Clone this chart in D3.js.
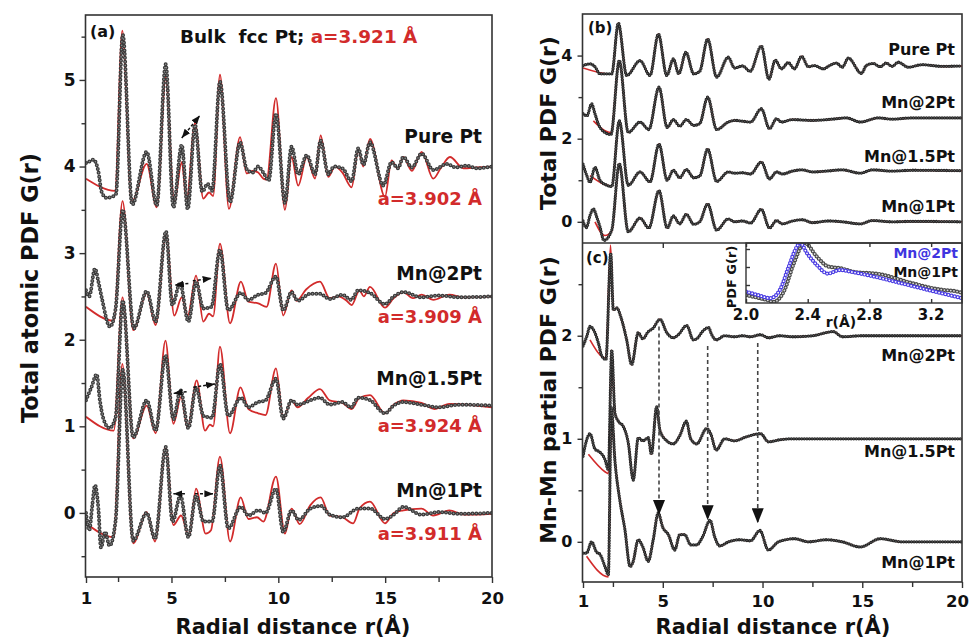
<!DOCTYPE html>
<html>
<head>
<meta charset="utf-8">
<script src="https://cdn.jsdelivr.net/npm/d3@7"></script>
<style>
body { margin: 0; background: #fff; }
svg { display: block; }
</style>
</head>
<body>
<svg id="chart" width="971" height="640"></svg>
<script>
// ---- panel (a): total PDF, [r, G]
var aPureExp = [[1,4.04],[1.1,4.05],[1.34,4.08],[1.58,3.94],[1.73,3.71],[1.95,3.64],[2.2,3.65],[2.4,3.68],[2.72,5.52],[3.16,3.56],[3.84,4.17],[4.31,3.55],[4.73,5.18],[5.09,3.53],[5.48,4.25],[5.76,3.51],[6.1,4.48],[6.44,3.71],[6.69,3.8],[6.9,3.72],[7.27,4.98],[7.74,3.59],[8.21,4.28],[8.52,3.97],[8.8,3.93],[9.06,4.0],[9.3,3.93],[9.55,3.84],[9.89,4.61],[10.31,3.58],[10.62,4.23],[10.93,3.91],[11.33,4.13],[11.72,3.91],[11.98,4.3],[12.34,3.91],[12.6,4.0],[13.0,3.98],[13.43,3.83],[13.74,4.21],[13.98,4.02],[14.29,4.28],[14.91,3.78],[15.3,4.05],[15.6,3.98],[15.85,4.11],[16.25,3.99],[16.71,4.15],[17.25,3.96],[17.9,4.03],[18.3,3.99],[18.8,4.01],[19.3,3.98],[20,4.0]];
var aPureFit = [[1,3.86],[2.36,3.72],[2.7,5.57],[3.14,3.59],[3.84,4.03],[4.31,3.53],[4.73,5.03],[5.13,3.59],[5.48,4.05],[5.71,3.61],[6.1,4.5],[6.49,3.63],[6.76,3.7],[6.95,3.66],[7.27,5.06],[7.69,3.51],[8.21,4.34],[8.52,3.92],[8.8,3.95],[9.06,3.93],[9.3,3.86],[9.45,3.85],[9.89,4.79],[10.31,3.5],[10.62,4.11],[10.93,3.78],[11.33,4.11],[11.72,3.86],[11.98,4.36],[12.34,3.88],[12.65,4.0],[13.0,3.93],[13.43,3.76],[13.74,4.19],[13.98,4.0],[14.29,4.32],[14.99,3.65],[15.3,4.07],[15.6,3.97],[15.85,4.11],[16.25,3.95],[16.71,4.17],[17.25,3.86],[17.6,3.98],[18.03,4.11],[18.66,3.98],[19.3,3.99],[20,4.0]];
var a2PtExp = [[1,2.57],[1.15,2.5],[1.42,2.82],[1.58,2.67],[1.75,2.47],[2.12,2.15],[2.38,2.35],[2.72,3.5],[3.24,2.13],[3.84,2.56],[4.26,2.21],[4.74,3.25],[5.04,2.4],[5.4,2.65],[5.79,2.21],[6.15,2.67],[6.49,2.36],[6.87,2.38],[7.27,3.04],[7.66,2.34],[8.25,2.54],[8.6,2.46],[9.06,2.52],[9.4,2.54],[9.89,2.73],[10.23,2.34],[10.62,2.55],[10.9,2.45],[11.5,2.53],[11.95,2.53],[12.4,2.47],[13.0,2.52],[13.4,2.46],[13.74,2.57],[14.29,2.54],[14.99,2.41],[15.4,2.5],[15.85,2.55],[16.7,2.49],[17.5,2.51],[18.5,2.49],[20,2.5]];
var a2PtFit = [[1,2.38],[2.3,2.22],[2.71,3.6],[3.21,2.11],[3.84,2.54],[4.26,2.17],[4.74,3.23],[5.13,2.28],[5.48,2.49],[5.76,2.28],[6.15,2.74],[6.49,2.21],[6.76,2.3],[6.95,2.27],[7.27,3.11],[7.74,2.19],[8.25,2.67],[8.6,2.44],[9.06,2.42],[9.45,2.38],[9.89,2.88],[10.23,2.28],[10.62,2.57],[10.85,2.45],[11.3,2.58],[11.95,2.67],[12.4,2.48],[12.8,2.5],[13.2,2.45],[13.43,2.4],[13.8,2.57],[14.0,2.5],[14.29,2.61],[14.99,2.37],[15.4,2.48],[15.85,2.55],[16.3,2.48],[16.71,2.52],[17.25,2.46],[18.0,2.52],[18.7,2.49],[20,2.5]];
var a15PtExp = [[1,1.3],[1.25,1.45],[1.5,1.6],[1.65,1.3],[1.8,1.1],[2.1,0.98],[2.38,1.1],[2.72,2.45],[3.21,0.87],[3.84,1.3],[4.26,0.95],[4.72,1.82],[5.09,1.08],[5.42,1.42],[5.79,0.98],[6.15,1.45],[6.5,1.12],[6.9,1.1],[7.27,1.72],[7.66,1.12],[8.25,1.33],[8.6,1.22],[9.06,1.28],[9.4,1.3],[9.89,1.55],[10.23,1.09],[10.62,1.3],[10.9,1.25],[11.5,1.3],[11.95,1.33],[12.4,1.25],[13.0,1.28],[13.4,1.22],[13.74,1.33],[14.3,1.3],[14.99,1.15],[15.4,1.24],[15.85,1.28],[16.7,1.25],[17.5,1.22],[18.5,1.25],[20,1.24]];
var a15PtFit = [[1,1.11],[2.3,0.95],[2.71,2.49],[3.21,0.86],[3.84,1.24],[4.26,0.92],[4.72,1.99],[5.09,1.03],[5.45,1.34],[5.76,0.98],[6.18,1.53],[6.57,0.95],[6.8,1.02],[6.95,1.0],[7.27,1.92],[7.74,0.92],[8.23,1.45],[8.6,1.2],[9.06,1.15],[9.4,1.13],[9.89,1.67],[10.23,1.09],[10.62,1.3],[10.9,1.22],[11.4,1.33],[11.95,1.43],[12.4,1.3],[13.0,1.27],[13.43,1.2],[13.8,1.33],[14.29,1.36],[14.99,1.15],[15.4,1.25],[15.85,1.3],[16.7,1.27],[17.3,1.2],[18.0,1.26],[20,1.22]];
var a1PtExp = [[1,0.0],[1.15,-0.2],[1.3,0.1],[1.42,0.32],[1.58,0.05],[1.7,-0.4],[1.9,-0.22],[2.1,-0.38],[2.38,-0.1],[2.72,1.65],[3.21,-0.32],[3.84,0.0],[4.23,-0.3],[4.73,0.76],[5.05,-0.1],[5.42,0.2],[5.79,-0.28],[6.15,0.2],[6.5,-0.1],[6.9,-0.1],[7.27,0.55],[7.66,-0.18],[8.24,0.07],[8.6,-0.03],[9.06,0.03],[9.4,0.0],[9.89,0.28],[10.23,-0.22],[10.62,0.03],[10.95,-0.08],[11.5,0.05],[12.0,0.08],[12.4,-0.02],[13.0,-0.05],[13.74,0.05],[14.3,0.05],[14.99,-0.07],[15.4,-0.02],[15.85,0.07],[16.7,-0.02],[17.5,0.01],[18.5,-0.01],[20,0.0]];
var a1PtFit = [[1,-0.12],[2.3,-0.28],[2.7,1.72],[3.21,-0.35],[3.84,0.01],[4.23,-0.33],[4.73,0.76],[5.09,-0.14],[5.45,-0.03],[5.82,-0.27],[6.15,0.28],[6.6,-0.24],[6.85,-0.2],[7.27,0.65],[7.74,-0.33],[8.24,0.18],[8.6,-0.07],[9.0,-0.05],[9.3,-0.1],[9.89,0.42],[10.31,-0.24],[10.62,0.05],[11.0,-0.13],[11.5,0.09],[11.98,0.18],[12.4,-0.03],[13.0,-0.05],[13.5,-0.12],[13.8,0.05],[14.29,0.13],[14.99,-0.12],[15.4,0.0],[15.85,0.03],[16.7,0.05],[17.25,-0.03],[18.0,0.03],[18.7,-0.02],[20,-0.01]];

// ---- panel (b): total PDF
var bPureExp = [[1,3.76],[1.35,3.8],[1.6,3.73],[1.85,3.56],[2.44,3.56],[2.77,4.78],[3.19,3.52],[3.86,3.88],[4.36,3.52],[4.78,4.52],[5.2,3.52],[5.53,3.92],[5.8,3.56],[6.16,4.08],[6.55,3.56],[6.85,3.62],[7.25,4.4],[7.7,3.48],[8.28,3.96],[8.6,3.7],[9.0,3.75],[9.38,3.62],[9.94,4.23],[10.32,3.43],[10.64,3.89],[10.95,3.68],[11.29,3.83],[11.6,3.68],[11.96,3.98],[12.3,3.73],[12.6,3.76],[13.05,3.68],[13.36,3.76],[13.7,3.82],[14.0,3.72],[14.3,3.94],[14.96,3.57],[15.2,3.76],[15.55,3.81],[15.9,3.73],[16.2,3.82],[16.5,3.74],[16.8,3.84],[17.3,3.72],[18.0,3.78],[19.0,3.74],[20,3.75]];
var b2PtExp = [[1,2.6],[1.2,2.55],[1.43,2.84],[1.6,2.6],[1.77,2.35],[2.1,2.15],[2.4,2.1],[2.82,3.88],[3.27,2.15],[3.86,2.4],[4.3,2.22],[4.81,3.24],[5.22,2.27],[5.53,2.46],[5.85,2.3],[6.18,2.46],[6.55,2.32],[6.85,2.36],[7.25,3.0],[7.7,2.22],[8.28,2.4],[8.6,2.44],[9.0,2.42],[9.4,2.4],[9.94,2.72],[10.35,2.24],[10.7,2.48],[10.95,2.4],[11.5,2.46],[11.96,2.45],[12.5,2.44],[13.5,2.47],[14.2,2.5],[14.9,2.4],[15.8,2.5],[16.5,2.47],[17.5,2.5],[20,2.5]];
var b15PtExp = [[1,1.39],[1.2,1.1],[1.35,0.95],[1.6,1.31],[1.85,1.0],[2.2,0.88],[2.44,0.85],[2.82,2.43],[3.27,0.88],[3.86,1.2],[4.36,0.96],[4.81,1.87],[5.22,1.0],[5.53,1.24],[5.85,1.06],[6.18,1.26],[6.55,1.06],[6.85,1.1],[7.25,1.75],[7.7,0.97],[8.28,1.2],[8.6,1.17],[9.0,1.18],[9.4,1.15],[9.94,1.44],[10.35,1.03],[10.7,1.2],[11.0,1.15],[11.5,1.22],[12.0,1.25],[12.5,1.2],[13.2,1.22],[14.0,1.25],[14.9,1.17],[15.5,1.25],[16.5,1.22],[17.5,1.24],[20,1.23]];
var b1PtExp = [[1,0.02],[1.17,-0.14],[1.35,0.15],[1.52,0.31],[1.7,0.1],[1.85,-0.12],[2.05,-0.45],[2.44,-0.2],[2.82,1.4],[3.27,-0.24],[3.86,0.09],[4.3,-0.15],[4.81,0.75],[5.22,-0.15],[5.53,0.14],[5.85,-0.05],[6.18,0.18],[6.55,-0.06],[6.85,0.0],[7.25,0.43],[7.7,-0.2],[8.28,0.07],[8.6,0.0],[9.0,0.02],[9.4,-0.03],[9.94,0.3],[10.35,-0.15],[10.7,0.03],[11.0,-0.05],[11.5,0.02],[12.0,0.05],[12.5,-0.02],[13.3,0.02],[14.0,0.0],[14.9,-0.05],[15.5,0.03],[16.5,0.0],[17.5,0.01],[20,0.0]];
// fits follow the data above ~2.8 A; below that they are straight low-r segments
var bPureFit = [[1,3.7],[2.44,3.55]].concat(bPureExp.filter(function(d){ return d[0] >= 2.77; }));
var b2PtFit = [[1.52,2.43],[2.4,2.15]].concat(b2PtExp.filter(function(d){ return d[0] >= 2.8; }));
var b15PtFit = [[1.35,1.11],[2.44,0.86]].concat(b15PtExp.filter(function(d){ return d[0] >= 2.8; }));
var b1PtFit = [[1.6,0.0],[2.1,-0.33],[2.44,-0.22]].concat(b1PtExp.filter(function(d){ return d[0] >= 2.8; }));

// ---- panel (c): Mn-Mn partial PDF
var c2PtExp = [[1,1.9],[1.2,2.0],[1.35,2.09],[1.55,2.05],[1.77,1.93],[1.95,1.8],[2.15,1.77],[2.39,2.8],[2.52,2.25],[2.7,2.27],[2.9,2.18],[3.19,1.96],[3.44,1.72],[3.77,2.03],[4.0,1.97],[4.27,2.04],[4.5,2.07],[4.86,2.16],[5.2,2.03],[5.52,1.98],[5.78,2.01],[6.2,2.1],[6.53,1.96],[6.7,1.97],[7.03,2.05],[7.3,2.08],[7.43,2.02],[7.68,1.96],[8.1,2.0],[8.6,1.99],[9.0,2.0],[9.4,1.99],[9.9,2.01],[10.3,1.98],[10.85,2.0],[11.5,1.99],[12.5,2.0],[13.55,2.04],[14.0,1.99],[15,2.0],[20,2.0]];
var c15PtExp = [[1,0.83],[1.17,0.98],[1.35,1.05],[1.6,0.9],[1.85,0.87],[2.1,0.8],[2.27,0.7],[2.44,1.86],[2.6,1.25],[2.77,1.17],[3.02,1.12],[3.27,0.96],[3.52,0.6],[3.77,1.01],[4.0,0.98],[4.27,1.01],[4.43,0.85],[4.69,1.31],[4.86,1.08],[5.2,0.98],[5.52,0.95],[5.85,1.03],[6.18,1.17],[6.4,1.0],[6.7,0.95],[7.2,1.1],[7.4,1.05],[7.68,0.89],[8.1,1.0],[8.6,0.98],[9.2,1.02],[9.9,1.05],[10.3,0.97],[10.85,0.99],[11.5,1.0],[12.5,1.0],[20,1.0]];
var c1PtExp = [[1,-0.11],[1.18,-0.11],[1.43,0.0],[1.68,-0.1],[1.85,-0.12],[2.1,-0.24],[2.27,-0.32],[2.42,1.3],[2.6,0.79],[2.85,0.4],[3.1,0.12],[3.36,-0.24],[3.5,-0.2],[3.77,0.02],[4.0,-0.05],[4.27,-0.19],[4.52,0.02],[4.77,0.28],[5.0,0.14],[5.28,0.07],[5.6,-0.08],[5.85,0.07],[6.1,0.07],[6.4,-0.03],[6.7,-0.03],[7.0,0.05],[7.37,0.21],[7.6,0.05],[7.85,-0.04],[8.3,0.0],[8.85,0.02],[9.4,0.01],[9.87,0.11],[10.29,-0.08],[10.8,0.0],[11.6,0.03],[12.3,0.0],[13.2,0.02],[14.0,0.0],[14.9,-0.05],[15.9,0.03],[17,0.0],[20,0.0]];
var c2PtFit = [[1.35,1.96],[2.15,1.78],[2.38,2.88]].concat(c2PtExp.filter(function(d){ return d[0] >= 2.5; }));
var c15PtFit = [[1.27,0.85],[2.1,0.68],[2.27,0.66]].concat(c15PtExp.filter(function(d){ return d[0] >= 2.44; }));
var c1PtFit = [[1.18,-0.14],[2.27,-0.34]].concat(c1PtExp.filter(function(d){ return d[0] >= 2.42; }));

// ---- inset (normalised G)
var insetMn2 = [[2.0,0.19],[2.08,0.13],[2.157,0.08],[2.22,0.22],[2.276,0.6],[2.33,0.94],[2.35,1.0],[2.395,0.83],[2.46,0.63],[2.53,0.49],[2.61,0.55],[2.68,0.52],[2.83,0.44],[3.05,0.3],[3.27,0.16],[3.4,0.08]];
var insetMn1 = [[2.0,0.13],[2.136,0.05],[2.18,0.02],[2.245,0.19],[2.31,0.66],[2.365,0.97],[2.38,1.0],[2.46,0.77],[2.53,0.61],[2.61,0.58],[2.7,0.52],[2.87,0.48],[3.05,0.35],[3.27,0.22],[3.35,0.2],[3.4,0.17]];

// ---- ticks and labels
var xLabelTicks = [1,5,10,15,20];
var xMinorTicks = [2.5,7.5,12.5,17.5];
var aYMajor = [0,1,2,3,4,5], aYMinor = [-0.5,0.5,1.5,2.5,3.5,4.5,5.5];
var bYMajor = [0,2,4], bYMinor = [1,3];
var cYMajor = [0,1,2], cYMinor = [0.5,1.5,2.5];
var insetTicks = [2.0,2.4,2.8,3.2];
var aNames = ["Pure Pt","Mn@2Pt","Mn@1.5Pt","Mn@1Pt"];
var aLattice = ["a=3.902 Å","a=3.909 Å","a=3.924 Å","a=3.911 Å"];
var cNames = ["Mn@2Pt","Mn@1.5Pt","Mn@1Pt"];
// annotation arrows [r1, G1, r2, G2]
var aArrows = [[5.79,2.65,5.16,2.63],[6.0,2.68,6.88,2.71],[5.71,1.40,5.09,1.38],[6.02,1.45,7.04,1.49],[5.63,0.22,5.09,0.22],[6.1,0.22,6.96,0.22]];
var aArrowBoth = [5.48,4.33,6.33,4.59];
var cArrows = [[4.81,2.09,0.26],[7.25,1.9,0.21],[9.76,1.93,0.18]];

var F = "'DejaVu Sans', Verdana, sans-serif";
var RED = "#d22b2b";
var svg = d3.select("#chart");

var defs = svg.append("defs");
function marker(id, w, h, color, orient) {
  defs.append("marker").attr("id", id).attr("markerUnits", "userSpaceOnUse")
    .attr("markerWidth", w).attr("markerHeight", h).attr("refX", w).attr("refY", h / 2)
    .attr("orient", orient)
    .append("path").attr("d", "M0,0L" + w + "," + (h / 2) + "L0," + h + "Z").attr("fill", color);
}
marker("ah", 9, 7, "#111", "auto");
marker("ah2", 9, 7, "#111", "auto-start-reverse");
marker("ahc", 15, 12, "#111", "auto");

function clip(id, x, y, w, h) {
  defs.append("clipPath").attr("id", id).append("rect").attr("x", x).attr("y", y).attr("width", w).attr("height", h);
}

function txt(x, y, s, size, fill, anchor, rot) {
  var t = svg.append("text").attr("x", x).attr("y", y).text(s)
    .attr("font-family", F).attr("font-weight", "bold").attr("font-size", size)
    .attr("fill", fill || "#111").attr("text-anchor", anchor || "start");
  if (rot) t.attr("transform", "rotate(-90 " + x + " " + y + ")");
  return t;
}

function styleAxis(g, size) {
  g.attr("color", "#333").attr("font-family", null).attr("font-size", null);
  g.select(".domain").remove();
  g.selectAll("line").attr("stroke-width", 1.4);
  g.selectAll("text").attr("font-family", F).attr("font-weight", "bold").attr("font-size", size).attr("fill", "#111");
}

function dots(g, data, line, outer, inner, w1, w2, gap) {
  g.append("path").datum(data).attr("d", line).attr("fill", "none").attr("stroke", outer)
    .attr("stroke-width", w1).attr("stroke-linecap", "round").attr("stroke-dasharray", "0 " + gap);
  g.append("path").datum(data).attr("d", line).attr("fill", "none").attr("stroke", inner)
    .attr("stroke-width", w2).attr("stroke-linecap", "round").attr("stroke-dasharray", "0 " + gap);
}

// ================= panel (a)
var xa = d3.scaleLinear().domain([1, 20]).range([86, 492]);
var ya = d3.scaleLinear().domain([-0.74, 5.75]).range([577, 15]);
var la = d3.line().x(function(d){ return xa(d[0]); }).y(function(d){ return ya(d[1]); }).curve(d3.curveMonotoneX);
clip("clipA", 86, 15, 406, 562);

svg.append("g").attr("transform", "translate(85.5,0)")
  .call(d3.axisLeft(ya).tickValues(aYMajor).tickSize(6).tickPadding(4).tickFormat(d3.format("d")))
  .call(styleAxis, 17);
svg.append("g").attr("transform", "translate(85.5,0)")
  .call(d3.axisLeft(ya).tickValues(aYMinor).tickSize(4).tickFormat(""))
  .call(styleAxis, 17);
svg.append("g").attr("transform", "translate(0,577)")
  .call(d3.axisBottom(xa).tickValues(xLabelTicks).tickSize(6).tickPadding(9).tickFormat(d3.format("d")))
  .call(styleAxis, 16.5);
svg.append("g").attr("transform", "translate(0,577)")
  .call(d3.axisBottom(xa).tickValues(xMinorTicks).tickSize(5).tickFormat(""))
  .call(styleAxis, 16.5);

var ga = svg.append("g").attr("clip-path", "url(#clipA)");
[[aPureFit, aPureExp], [a2PtFit, a2PtExp], [a15PtFit, a15PtExp], [a1PtFit, a1PtExp]].forEach(function(p) {
  ga.append("path").datum(p[0]).attr("d", la).attr("fill", "none").attr("stroke", RED).attr("stroke-width", 1.8);
});
[aPureExp, a2PtExp, a15PtExp, a1PtExp].forEach(function(d) {
  dots(ga, d, la, "#3a3a3a", "#8e8e8e", 4.0, 1.6, 3.8);
});

aArrows.forEach(function(a) {
  svg.append("line").attr("x1", xa(a[0])).attr("y1", ya(a[1])).attr("x2", xa(a[2])).attr("y2", ya(a[3]))
    .attr("stroke", "#111").attr("stroke-width", 1.5).attr("stroke-dasharray", "3 2").attr("marker-end", "url(#ah)");
});
svg.append("line").attr("x1", xa(aArrowBoth[0])).attr("y1", ya(aArrowBoth[1])).attr("x2", xa(aArrowBoth[2])).attr("y2", ya(aArrowBoth[3]))
  .attr("stroke", "#111").attr("stroke-width", 1.5).attr("stroke-dasharray", "3 2")
  .attr("marker-end", "url(#ah2)").attr("marker-start", "url(#ah2)");

svg.append("rect").attr("x", 85.5).attr("y", 15).attr("width", 406.5).attr("height", 562)
  .attr("fill", "none").attr("stroke", "#333").attr("stroke-width", 1.6);

txt(90, 37, "(a)", 16);
var title = txt(180, 43, "", 18.4).attr("xml:space", "preserve").style("white-space", "pre");
title.append("tspan").text("Bulk  fcc Pt; ");
title.append("tspan").attr("fill", RED).text("a=3.921 Å");
var aNameY = [143, 280, 385, 497], aLatY = [205, 323, 432, 540];
aNames.forEach(function(n, i) { txt(482, aNameY[i], n, 18.6, "#111", "end"); });
aLattice.forEach(function(n, i) { txt(482, aLatY[i], n, 18, RED, "end"); });
txt(38, 288, "Total atomic PDF G(r)", 22.4, "#111", "middle", true);
txt(293, 634, "Radial distance r(Å)", 21, "#111", "middle");

// ================= panels (b) and (c)
var xr = d3.scaleLinear().domain([1, 20]).range([583, 962]);
var yb = d3.scaleLinear().domain([-0.51, 5.0]).range([243, 14]);
var yc = d3.scaleLinear().domain([-0.39, 2.9]).range([582, 243]);
var lb = d3.line().x(function(d){ return xr(d[0]); }).y(function(d){ return yb(d[1]); }).curve(d3.curveMonotoneX);
var lc = d3.line().x(function(d){ return xr(d[0]); }).y(function(d){ return yc(d[1]); }).curve(d3.curveMonotoneX);
clip("clipB", 583, 14, 379, 229);
clip("clipC", 583, 243, 379, 339);

[[yb, bYMajor, bYMinor], [yc, cYMajor, cYMinor]].forEach(function(s) {
  svg.append("g").attr("transform", "translate(582.5,0)")
    .call(d3.axisLeft(s[0]).tickValues(s[1]).tickSize(5).tickPadding(5).tickFormat(d3.format("d")))
    .call(styleAxis, 16);
  svg.append("g").attr("transform", "translate(582.5,0)")
    .call(d3.axisLeft(s[0]).tickValues(s[2]).tickSize(4).tickFormat(""))
    .call(styleAxis, 16);
});
svg.append("g").attr("transform", "translate(0,582)")
  .call(d3.axisBottom(xr).tickValues(xLabelTicks).tickSize(6).tickPadding(7).tickFormat(d3.format("d")))
  .call(styleAxis, 16.5)
  .call(function(g) { g.selectAll("text").filter(function(d) { return d === 20; }).attr("dx", -5); });
svg.append("g").attr("transform", "translate(0,582)")
  .call(d3.axisBottom(xr).tickValues(xMinorTicks).tickSize(5).tickFormat(""))
  .call(styleAxis, 16.5);
svg.append("g").attr("transform", "translate(0,243)")
  .call(d3.axisBottom(xr).tickValues([5, 10, 15]).tickSize(5).tickFormat(""))
  .call(styleAxis, 16.5);

var gb = svg.append("g").attr("clip-path", "url(#clipB)");
[bPureFit, b2PtFit, b15PtFit, b1PtFit].forEach(function(d) {
  gb.append("path").datum(d).attr("d", lb).attr("fill", "none").attr("stroke", RED).attr("stroke-width", 1.6);
});
[bPureExp, b2PtExp, b15PtExp, b1PtExp].forEach(function(d) {
  dots(gb, d, lb, "#262626", "#6a6a6a", 3.3, 1.2, 2.6);
});

var gc = svg.append("g").attr("clip-path", "url(#clipC)");
[c2PtFit, c15PtFit, c1PtFit].forEach(function(d) {
  gc.append("path").datum(d).attr("d", lc).attr("fill", "none").attr("stroke", RED).attr("stroke-width", 1.6);
});
[c2PtExp, c15PtExp, c1PtExp].forEach(function(d) {
  dots(gc, d, lc, "#262626", "#6a6a6a", 3.3, 1.2, 2.6);
});

cArrows.forEach(function(a) {
  svg.append("line").attr("x1", xr(a[0])).attr("y1", yc(a[1])).attr("x2", xr(a[0])).attr("y2", yc(a[2]))
    .attr("stroke", "#444").attr("stroke-width", 1.6).attr("stroke-dasharray", "4 3").attr("marker-end", "url(#ahc)");
});

// inset
var xi = d3.scaleLinear().domain([2.0, 3.4]).range([746, 962]);
var yi = d3.scaleLinear().domain([0, 1]).range([303, 243]);
var li = d3.line().x(function(d){ return xi(d[0]); }).y(function(d){ return yi(d[1]); }).curve(d3.curveMonotoneX);
clip("clipI", 746, 243, 216, 60);
svg.append("rect").attr("x", 746).attr("y", 243).attr("width", 216).attr("height", 60).attr("fill", "#fff");
var gi = svg.append("g").attr("clip-path", "url(#clipI)");
dots(gi, insetMn1, li, "#4a4a4a", "#d8d8d8", 4.2, 1.8, 3.2);
dots(gi, insetMn2, li, "#4b3de3", "#ffffff", 4.2, 1.8, 3.2);
svg.append("g").attr("transform", "translate(0,303)")
  .call(d3.axisTop(xi).tickValues(insetTicks).tickSize(4).tickFormat(""))
  .call(styleAxis, 15);
svg.append("g").attr("transform", "translate(0,243)")
  .call(d3.axisBottom(xi).tickValues(insetTicks).tickSize(4).tickFormat(""))
  .call(styleAxis, 15);
svg.append("g").attr("transform", "translate(746,0)")
  .call(d3.axisRight(yi).tickValues([0.3, 0.6, 0.9]).tickSize(4).tickFormat(""))
  .call(styleAxis, 15);
svg.append("rect").attr("x", 746).attr("y", 243).attr("width", 216).attr("height", 60)
  .attr("fill", "none").attr("stroke", "#333").attr("stroke-width", 1.4);
insetTicks.forEach(function(t) { txt(xi(t), 320, d3.format(".1f")(t), 15, "#111", "middle"); });
txt(841, 327, "r(Å)", 14, "#111", "middle");
txt(736, 277, "PDF G(r)", 13, "#111", "middle", true);
txt(958, 258, "Mn@2Pt", 14, "#3f35e0", "end");
txt(958, 277, "Mn@1Pt", 14, "#111", "end");

svg.append("rect").attr("x", 582.5).attr("y", 14).attr("width", 379.5).attr("height", 568)
  .attr("fill", "none").attr("stroke", "#333").attr("stroke-width", 1.6);
svg.append("line").attr("x1", 582.5).attr("x2", 962).attr("y1", 243).attr("y2", 243)
  .attr("stroke", "#333").attr("stroke-width", 1.6);

txt(588, 33, "(b)", 15);
txt(586, 263, "(c)", 15);
var bNameY = [55, 108, 162, 212];
aNames.forEach(function(n, i) { txt(955, bNameY[i], n, 16, "#111", "end"); });
var cNameY = [361, 457, 568];
cNames.forEach(function(n, i) { txt(955, cNameY[i], n, 16, "#111", "end"); });
txt(556, 123, "Total PDF G(r)", 22, "#111", "middle", true);
txt(556, 400, "Mn-Mn partial PDF G(r)", 22, "#111", "middle", true);
txt(773, 634, "Radial distance r(Å)", 21, "#111", "middle");
</script>
</body>
</html>
